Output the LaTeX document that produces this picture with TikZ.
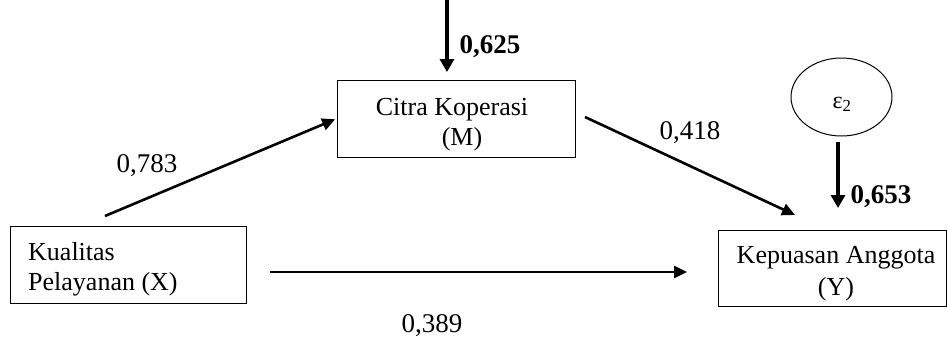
\documentclass[tikz,border=0pt]{standalone}
\usepackage{fontspec}
\setmainfont{Liberation Serif}
\usetikzlibrary{arrows.meta,shapes.geometric,calc}
\begin{document}
\begin{tikzpicture}[x=1pt,y=-1pt,
  varbox/.style={draw, line width=1pt, inner sep=0pt, outer sep=0pt},
  errnode/.style={draw, ellipse, line width=1pt, inner sep=0pt, outer sep=0pt},
  txt/.style={font=\fontsize{26}{30}\selectfont, inner sep=0pt, anchor=base},
  coef/.style={font=\fontsize{27}{30}\selectfont, inner sep=0pt, anchor=base},
  bcoef/.style={font=\fontsize{27}{30}\selectfont\bfseries, inner sep=0pt, anchor=base},
  pathline/.style={line width=2.6pt, -{Triangle[length=13pt,width=12pt]}},
  errline/.style={line width=3.2pt, -{Triangle[length=13pt,width=14pt]}}]
\useasboundingbox (0,0) rectangle (947,338);

% variables
\node[varbox, minimum width=238pt, minimum height=77pt] (M) at (456,118.5) {};
\node[varbox, minimum width=236pt, minimum height=77pt] (X) at (128,264.5) {};
\node[varbox, minimum width=228pt, minimum height=76pt] (Y) at (832,268) {};
\node[errnode, minimum width=101pt, minimum height=78pt] (E) at (841.5,97) {};

% variable names
\node[txt] (m1) at (452,115) {Citra Koperasi};
\node[txt] (m2) at (462,145) {(M)};
\node[txt, anchor=base west] (x1) at (28,260) {Kualitas};
\node[txt, anchor=base west] (x2) at (28,290) {Pelayanan (X)};
\node[txt] (y1) at (836,263) {Kepuasan Anggota};
\node[txt] (y2) at (836,295) {(Y)};
\node[txt, font=\fontsize{24}{28}\selectfont] (e) at (842,108) {ε\textsubscript{2}};

% paths
\coordinate (xm) at (105,216);
\coordinate (top) at (447,0);
\draw[pathline, shorten >=2pt] (xm) -- (M.west);
\draw[pathline] ($(M.east)+(10,-1.5)$) -- ($(Y.north west)+(77,-15)$);
\draw[pathline] ($(X.east)+(24,7.5)$) -- ($(Y.west)+(-31,4)$);
\draw[errline] (top) -- ($(M.north)+(-9,-8)$);
\draw[errline] ($(E.south)+(-3.5,6)$) -- ($(Y.north)+(6,-22)$);

% coefficients
\node[coef] (c1) at (147,172) {0,783};
\node[coef] (c2) at (690,139) {0,418};
\node[coef] (c3) at (432,332) {0,389};
\node[bcoef] (c4) at (490,53) {0,625};
\node[bcoef] (c5) at (881,203) {0,653};
\end{tikzpicture}
\end{document}
